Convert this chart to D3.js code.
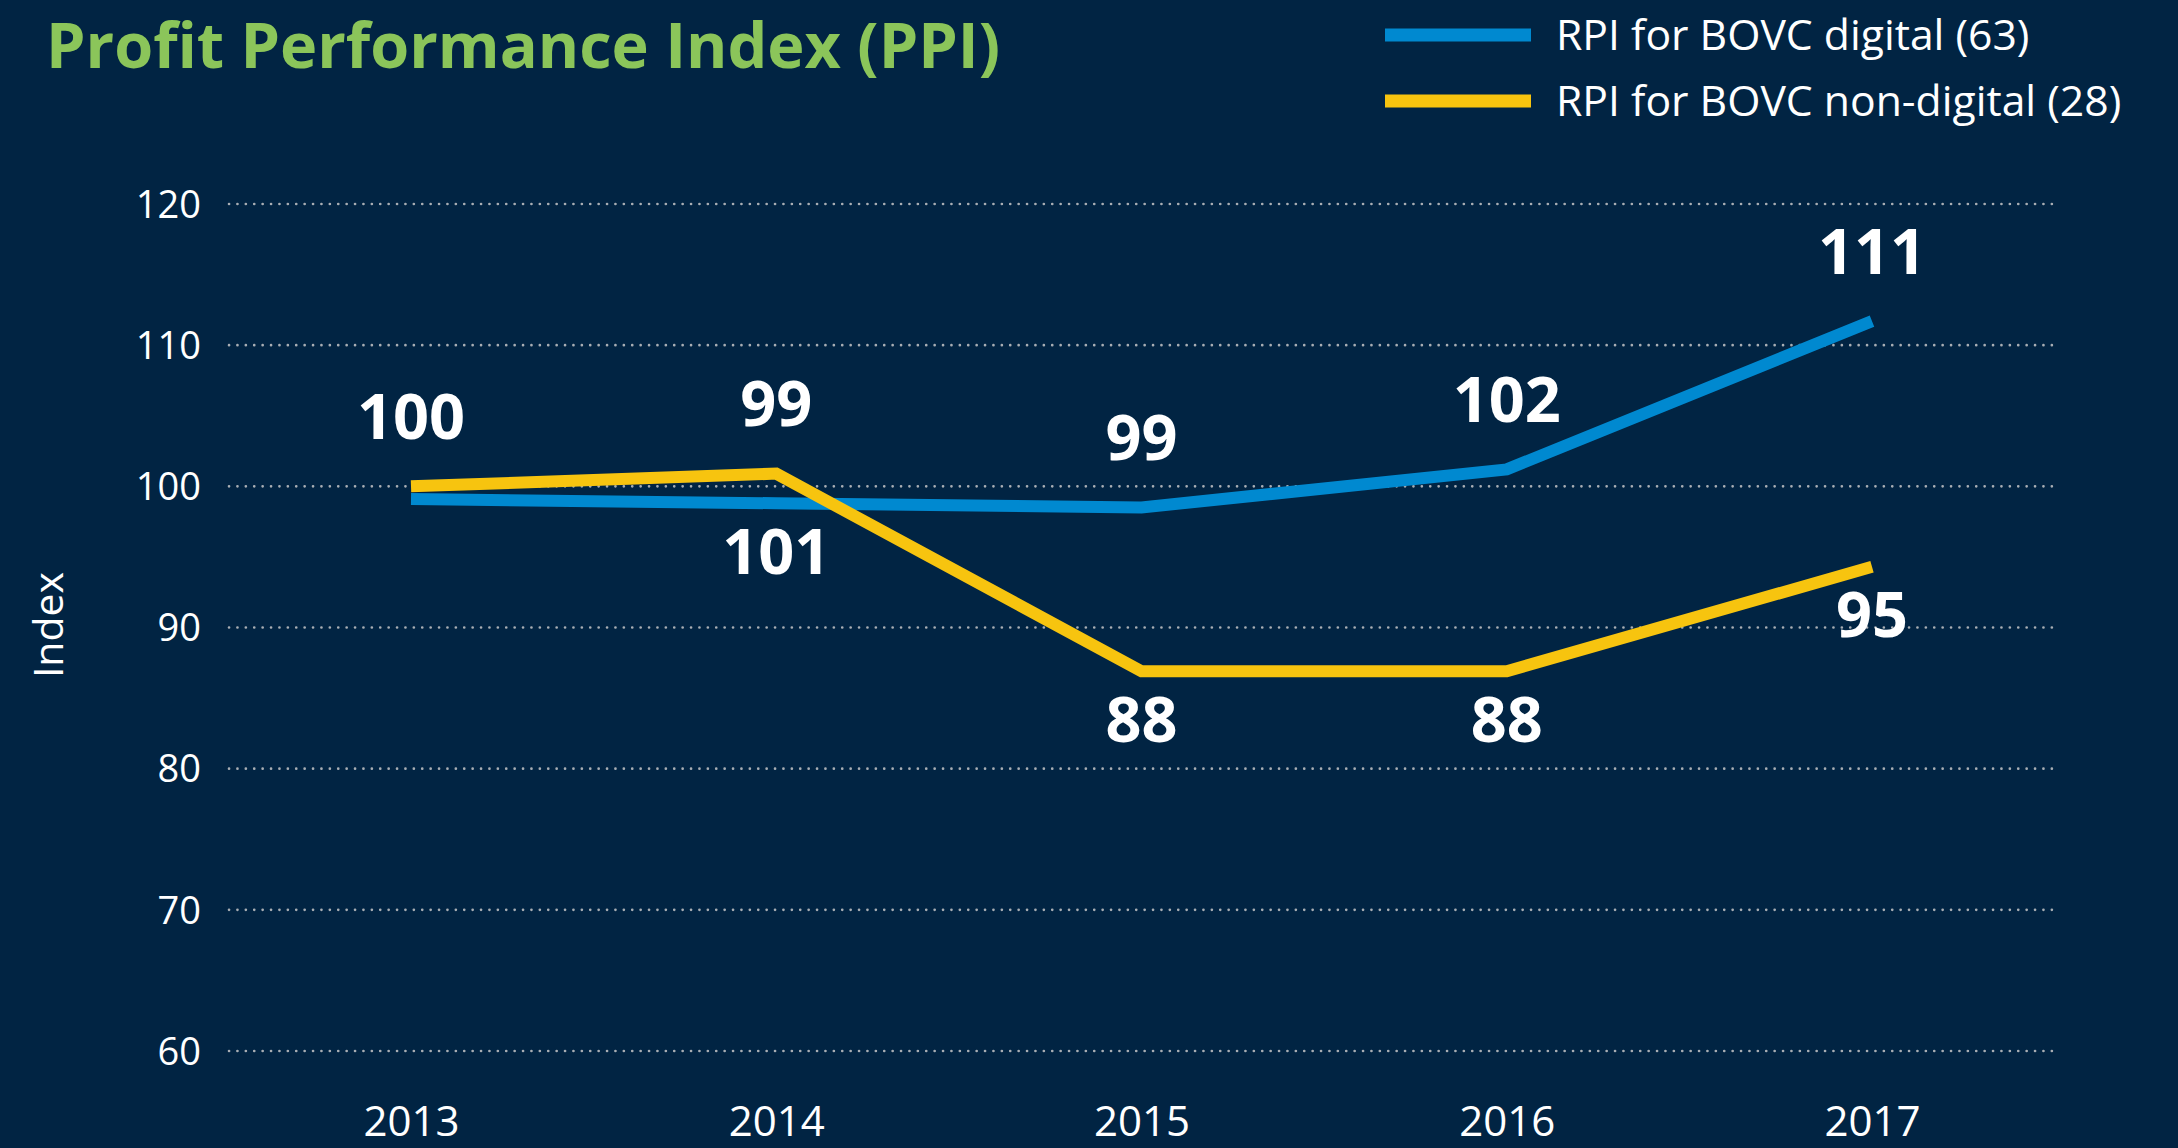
<!DOCTYPE html>
<html>
<head>
<meta charset="utf-8">
<script src="https://cdn.jsdelivr.net/npm/d3@7"></script>
<style>
  html, body { margin: 0; padding: 0; background: #012443; }
  svg { display: block; }
</style>
</head>
<body>
<script>
// ---- data ----
const years = ["2013", "2014", "2015", "2016", "2017"];
const digital = [99.1, 98.8, 98.5, 101.2, 111.7];
const nonDigital = [100.0, 100.9, 86.9, 86.9, 94.3];
const topLabels = ["100", "99", "99", "102", "111"];
const bottomLabels = [null, "101", "88", "88", "95"];
const yTicks = [60, 70, 80, 90, 100, 110, 120];
const seriesNames = ["RPI for BOVC digital (63)", "RPI for BOVC non-digital (28)"];
const titleText = "Profit Performance Index (PPI)";
const yAxisTitle = "Index";

// ---- layout ----
const W = 2178, H = 1148;
const colors = ["#0089d0", "#f7c40f"];
const font = "'Open Sans', 'Noto Sans', sans-serif";

const svg = d3.select("body").append("svg").attr("width", W).attr("height", H);
svg.append("rect").attr("width", W).attr("height", H).attr("fill", "#012443");

const x = d3.scalePoint().domain(years).range([411, 1872]);
const y = d3.scaleLinear().domain([60, 120]).range([1051, 204]);

// grid
const grid = svg.append("g");
grid.selectAll("line").data(yTicks).join("line")
  .attr("x1", 229).attr("x2", 2056)
  .attr("y1", d => y(d)).attr("y2", d => y(d))
  .attr("stroke", "#a9aeb4").attr("stroke-width", 2.6)
  .attr("stroke-linecap", "round")
  .attr("stroke-dasharray", "0.1 8.3");

// y axis via d3.axisLeft
const yAxis = svg.append("g").attr("transform", "translate(201,0)")
  .call(d3.axisLeft(y).tickValues(yTicks).tickSize(0).tickPadding(0));
yAxis.select(".domain").remove();
yAxis.selectAll("text").attr("fill", "#ffffff").style("font-family", font)
  .style("font-size", "38px").attr("dy", "0.35em");

// x axis
const xAxis = svg.append("g").attr("transform", "translate(0,1136)")
  .call(d3.axisBottom(x).tickSize(0).tickPadding(0));
xAxis.select(".domain").remove();
xAxis.selectAll("text").attr("fill", "#ffffff").style("font-family", font)
  .style("font-size", "42px").attr("dy", "0");

// y axis title
svg.append("text")
  .attr("transform", "translate(47,625) rotate(-90)")
  .attr("text-anchor", "middle").attr("dominant-baseline", "central")
  .attr("fill", "#ffffff").style("font-family", font).style("font-size", "41px")
  .text(yAxisTitle);

// lines
const line = d3.line().x((d, i) => x(years[i])).y(d => y(d));
[digital, nonDigital].forEach((s, k) => {
  svg.append("path").datum(s)
    .attr("d", line)
    .attr("fill", "none")
    .attr("stroke", colors[k])
    .attr("stroke-width", 12)
    .attr("stroke-linejoin", "miter");
});

// value labels
const lab = svg.append("g").style("font-family", font).style("font-weight", 700)
  .style("font-size", "63px").attr("fill", "#ffffff").attr("text-anchor", "middle");
years.forEach((yr, i) => {
  const up = Math.min(y(digital[i]), y(nonDigital[i]));
  const lo = Math.max(y(digital[i]), y(nonDigital[i]));
  lab.append("text").attr("x", x(yr)).attr("y", up - 72)
    .attr("dominant-baseline", "central").text(topLabels[i]);
  if (bottomLabels[i]) {
    lab.append("text").attr("x", x(yr)).attr("y", lo + 46)
      .attr("dominant-baseline", "central").text(bottomLabels[i]);
  }
});

// title
svg.append("text").attr("x", 46).attr("y", 68)
  .attr("fill", "#8bc55a").style("font-family", font).style("font-weight", 700)
  .style("font-size", "63px").text(titleText);

// legend
const leg = svg.append("g");
seriesNames.forEach((name, k) => {
  const cy = 35 + k * 66;
  leg.append("line").attr("x1", 1385).attr("x2", 1531)
    .attr("y1", cy).attr("y2", cy)
    .attr("stroke", colors[k]).attr("stroke-width", 13);
  leg.append("text").attr("x", 1556).attr("y", cy + 15)
    .attr("fill", "#ffffff").style("font-family", font).style("font-size", "42.7px")
    .text(name);
});
</script>
</body>
</html>
